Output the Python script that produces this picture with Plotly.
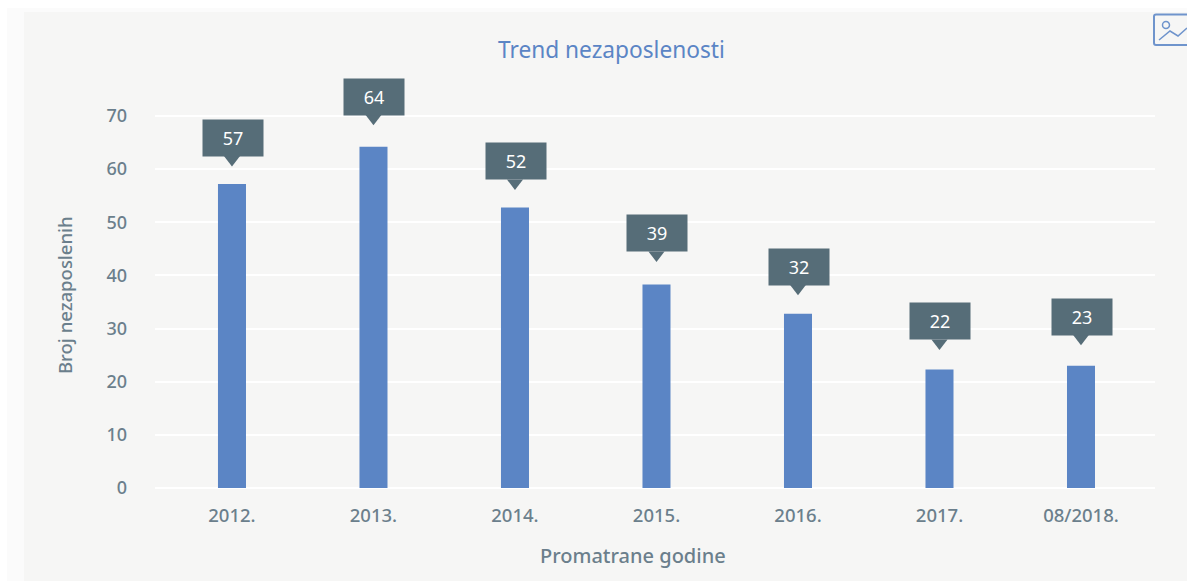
import plotly.graph_objects as go

W, H = 1187, 581
categories = ["2012.", "2013.", "2014.", "2015.", "2016.", "2017.", "08/2018."]
bar_values = [57.2, 64.2, 52.8, 38.3, 32.8, 22.3, 23.0]
callout_labels = ["57", "64", "52", "39", "32", "22", "23"]
callout_lift_px = [46, 50, 46, 51, 47, 48, 49]

BLUE = "#5b85c5"
SLATE = "#566d78"
TEXT = "#6b7f8c"
FONT = "Noto Sans"
PX_PER_UNIT = 372 / 70
positions = list(range(len(categories)))


def px(x):
    return x / W


def py(y):
    return 1 - y / H


fig = go.Figure()
fig.add_bar(x=positions, y=bar_values, marker=dict(color=BLUE, line_width=0), width=0.198,
            hoverinfo="skip", showlegend=False)
fig.add_scatter(x=positions,
                y=[v + (l - 21.5) / PX_PER_UNIT for v, l in zip(bar_values, callout_lift_px)],
                mode="markers", marker=dict(symbol="triangle-down", size=14, color=SLATE, line_width=0),
                hoverinfo="skip", showlegend=False, cliponaxis=False)

shapes = [
    dict(type="rect", xref="paper", yref="paper", x0=px(7), x1=1, y0=0, y1=py(8),
         fillcolor="#fbfbfb", line_width=0, layer="below"),
    dict(type="rect", xref="paper", yref="paper", x0=px(24), x1=1, y0=0, y1=py(12),
         fillcolor="#f6f6f5", line_width=0, layer="below"),
    # export icon
    dict(type="path", xref="paper", yref="paper",
         path=f"M {px(1195)} {py(14.5)} L {px(1156)} {py(14.5)} Q {px(1154)} {py(14.5)} {px(1154)} {py(16.5)} "
              f"L {px(1154)} {py(43)} Q {px(1154)} {py(45)} {px(1156)} {py(45)} L {px(1195)} {py(45)}",
         line=dict(color="#6f94cc", width=2)),
    dict(type="circle", xref="paper", yref="paper", x0=px(1162.5), x1=px(1169.5), y0=py(28.5), y1=py(21.5),
         line=dict(color="#6f94cc", width=1.5), fillcolor="rgba(0,0,0,0)"),
    dict(type="path", xref="paper", yref="paper",
         path=f"M {px(1159)} {py(40)} L {px(1170)} {py(31)} L {px(1178)} {py(36)} L {px(1187)} {py(28)}",
         line=dict(color="#6f94cc", width=1.5)),
]

annotations = [
    dict(text="Trend nezaposlenosti", xref="paper", yref="paper", x=px(611.5), y=py(49.5),
         xanchor="center", yanchor="middle", showarrow=False,
         font=dict(family=FONT, size=22.7, color=BLUE)),
    dict(text="Promatrane godine", xref="paper", yref="paper", x=px(633), y=py(555),
         xanchor="center", yanchor="middle", showarrow=False,
         font=dict(family=FONT, size=20, color=TEXT, weight=500)),
    dict(text="Broj nezaposlenih", xref="paper", yref="paper", x=px(64), y=py(295), textangle=-90,
         xanchor="center", yanchor="middle", showarrow=False,
         font=dict(family=FONT, size=18.5, color=TEXT, weight=500)),
]
for pos, val, lab, lift in zip(positions, bar_values, callout_labels, callout_lift_px):
    annotations.append(dict(
        x=pos, y=val, xref="x", yref="y", text=lab, showarrow=False,
        yanchor="middle", yshift=lift, xshift=1,
        width=60, height=36, bgcolor=SLATE, borderpad=0, valign="middle",
        font=dict(family=FONT, size=18, color="#ffffff"),
    ))

fig.update_layout(
    width=W, height=H, autosize=False,
    margin=dict(l=0, r=0, t=0, b=0),
    paper_bgcolor="#ffffff", plot_bgcolor="rgba(0,0,0,0)",
    shapes=shapes, annotations=annotations,
    font=dict(family=FONT, color=TEXT, size=15),
    xaxis=dict(domain=[px(155), px(1155)], range=[-0.544, 6.523], showgrid=False, showline=False,
               ticks="", zeroline=False, tickmode="array", tickvals=positions, ticktext=categories,
               tickfont=dict(size=18.5, color=TEXT, weight=500), ticklabelstandoff=14,
               automargin=False, fixedrange=True),
    yaxis=dict(domain=[py(488), py(114.14)], range=[0, 70.35], tickmode="array",
               tickvals=[0, 10, 20, 30, 40, 50, 60, 70], gridcolor="#ffffff", gridwidth=2,
               zeroline=True, zerolinecolor="#ffffff", zerolinewidth=2, showline=False, ticks="",
               tickfont=dict(size=18, color=TEXT, weight=500), ticklabelstandoff=27,
               automargin=False, fixedrange=True),
)
fig.write_html("out.html", config=dict(displayModeBar=False),
               post_script="document.body.style.margin='0';")
